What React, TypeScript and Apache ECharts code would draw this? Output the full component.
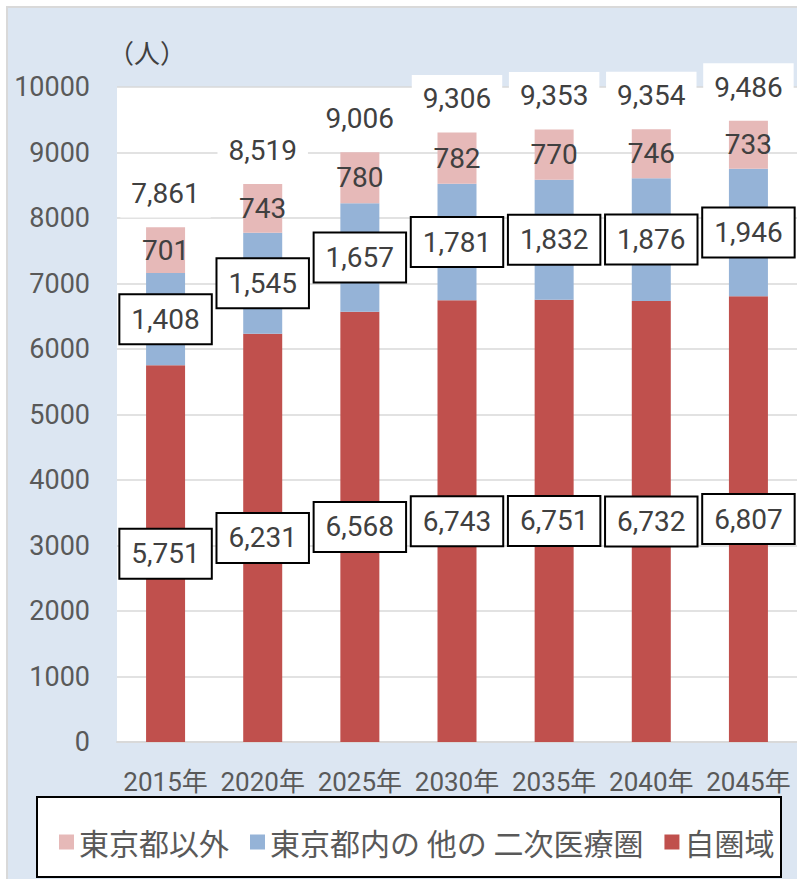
import React, { useEffect, useRef } from "react";
import * as echarts from "echarts";

const categories = ["2015年", "2020年", "2025年", "2030年", "2035年", "2040年", "2045年"];
const ownArea = [5751, 6231, 6568, 6743, 6751, 6732, 6807];
const otherTokyo = [1408, 1545, 1657, 1781, 1832, 1876, 1946];
const outsideTokyo = [701, 743, 780, 782, 770, 746, 733];
const totals = [7861, 8519, 9006, 9306, 9353, 9354, 9486];
const seriesNames = ["東京都以外", "東京都内の 他の 二次医療圏", "自圏域"];

const NUM_FONT = "Roboto, 'Noto Sans CJK JP', sans-serif";
const JP_FONT = "'Noto Sans CJK JP', sans-serif";
const fmt = (v: number) => v.toLocaleString("en-US");

export default function App() {
  const ref = useRef<HTMLDivElement>(null);
  useEffect(() => {
    if (!ref.current) return;
    const chart = echarts.init(ref.current, null, { renderer: "svg" });
    const boxLabel = {
      show: true,
      position: "inside",
      formatter: (p: any) => fmt(p.value),
      fontFamily: NUM_FONT,
      fontSize: 28,
      lineHeight: 32,
      color: "#404040",
      backgroundColor: "#fff",
      borderColor: "#000",
      borderWidth: 2,
      padding: [8, 11, 8, 11],
    };
    chart.setOption({
      animation: false,
      backgroundColor: "#fff",
      graphic: [
        {
          type: "rect",
          z: -10,
          shape: { x: 7, y: 7, width: 820, height: 900 },
          style: { fill: "#dce6f2", stroke: "#d9d9d9", lineWidth: 2 },
        },
        {
          type: "rect",
          z: -9,
          shape: { x: 117, y: 87, width: 690, height: 655 },
          style: { fill: "#ffffff" },
        },
        {
          type: "text",
          z: 5,
          x: 108,
          y: 38,
          style: { text: "（人）", fontFamily: JP_FONT, fontSize: 26, fill: "#404040" },
        },
        {
          type: "rect",
          z: 10,
          shape: { x: 37, y: 797, width: 744, height: 80 },
          style: { fill: "#ffffff", stroke: "#000000", lineWidth: 2 },
        },
      ],
      grid: { left: 117, right: 0, top: 87, bottom: 137, containLabel: false },
      legend: {
        z: 20,
        data: seriesNames,
        left: 54,
        top: 822,
        icon: "rect",
        itemWidth: 15,
        itemHeight: 15,
        itemGap: 21,
        textStyle: { fontFamily: JP_FONT, fontSize: 30, color: "#595959" },
      },
      xAxis: {
        type: "category",
        data: categories,
        axisLine: { lineStyle: { color: "#d9d9d9", width: 2 } },
        axisTick: { show: false },
        axisLabel: {
          interval: 0,
          fontFamily: NUM_FONT,
          fontSize: 26,
          color: "#595959",
          margin: 27,
        },
      },
      yAxis: {
        type: "value",
        min: 0,
        max: 10000,
        interval: 1000,
        axisLine: { show: false },
        axisTick: { show: false },
        splitLine: { lineStyle: { color: "#d9d9d9", width: 1.5 } },
        axisLabel: {
          formatter: (v: number) => String(v),
          fontFamily: NUM_FONT,
          fontSize: 27,
          color: "#595959",
          margin: 27,
        },
      },
      series: [
        {
          name: seriesNames[2],
          type: "bar",
          stack: "total",
          barWidth: 39,
          data: ownArea,
          itemStyle: { color: "#c0504d" },
          label: boxLabel,
        },
        {
          name: seriesNames[1],
          type: "bar",
          stack: "total",
          barWidth: 39,
          data: otherTokyo,
          itemStyle: { color: "#95b3d7" },
          label: boxLabel,
        },
        {
          name: seriesNames[0],
          type: "bar",
          stack: "total",
          barWidth: 39,
          data: outsideTokyo,
          itemStyle: { color: "#e6b9b8" },
          label: {
            show: true,
            position: "inside",
            formatter: (p: any) => fmt(p.value),
            fontFamily: NUM_FONT,
            fontSize: 28,
            color: "#404040",
          },
        },
        {
          name: "合計",
          type: "line",
          data: totals,
          symbol: "circle",
          symbolSize: 1,
          itemStyle: { color: "rgba(0,0,0,0)" },
          lineStyle: { width: 0, opacity: 0 },
          z: 6,
          label: {
            show: true,
            position: "top",
            distance: 9,
            formatter: (p: any) => fmt(p.value),
            fontFamily: NUM_FONT,
            fontSize: 28,
            lineHeight: 32,
            color: "#404040",
            backgroundColor: "#fff",
            padding: [8, 11, 8, 11],
          },
        },
      ],
    });
    return () => chart.dispose();
  }, []);
  return (
    <div
      ref={ref}
      style={{ position: "absolute", left: 0, top: 0, width: 797, height: 879 }}
    />
  );
}
